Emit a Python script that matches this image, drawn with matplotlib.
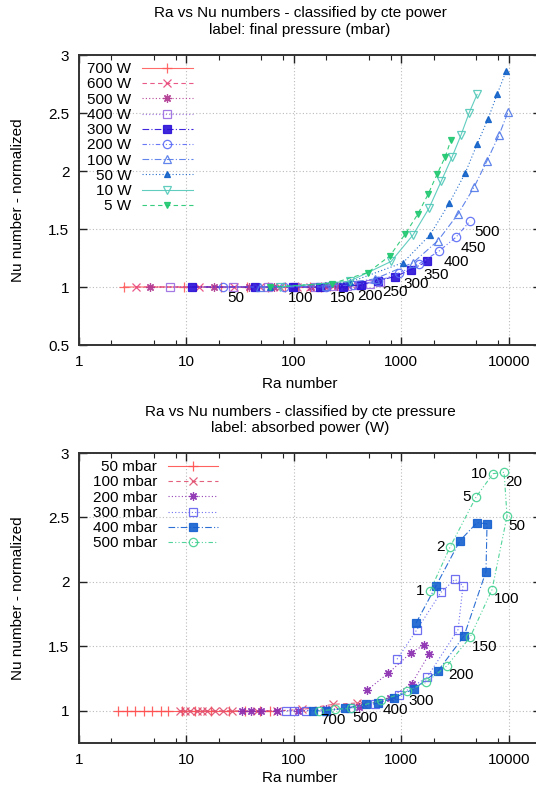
import matplotlib
matplotlib.use("Agg")
import matplotlib.pyplot as plt
from matplotlib.ticker import FixedLocator, NullFormatter, LogLocator

plt.rcParams['font.family'] = ['Liberation Sans', 'DejaVu Sans']
plt.rcParams['font.size'] = 10.5

# ---------------- top chart data (series by power, points = final pressure 50..500 mbar)
pressure_labels = ['50', '100', '150', '200', '250', '300', '350', '400', '450', '500']
power_names = ['700 W', '600 W', '500 W', '400 W', '300 W', '200 W', '100 W', '50 W', '10 W', '5 W']

ra_700 = [2.6, 9.5, 21, 37, 57, 82, 110, 142, 178, 215]
nu_700 = [1.0, 1.0, 1.0, 1.0, 1.0, 1.0, 1.0, 1.0, 1.0, 1.01]
ra_600 = [3.4, 13, 28, 48, 75, 106, 142, 185, 232, 282]
nu_600 = [1.0, 1.0, 1.0, 1.0, 1.0, 1.0, 1.0, 1.0, 1.01, 1.01]
ra_500 = [4.6, 18, 38, 66, 100, 145, 195, 252, 318, 390]
nu_500 = [1.0, 1.0, 1.0, 1.0, 1.0, 1.0, 1.01, 1.01, 1.02, 1.02]
ra_400 = [7.0, 27, 58, 102, 158, 228, 310, 405, 515, 640]
nu_400 = [1.0, 1.0, 1.0, 1.0, 1.0, 1.01, 1.01, 1.02, 1.03, 1.04]
ra_300 = [11.3, 43.5, 98, 175, 287, 422, 608, 875, 1233, 1740]
nu_300 = [1.0, 1.0, 1.0, 1.0, 1.0, 1.02, 1.055, 1.09, 1.15, 1.22]
ra_200 = [22, 81, 200, 356, 608, 955, 1465, 2250, 3240, 4370]
nu_200 = [1.0, 1.0, 1.0, 1.02, 1.05, 1.12, 1.20, 1.31, 1.43, 1.57]
ra_100 = [48, 200, 570, 1290, 2200, 3380, 4760, 6300, 8140, 9870]
nu_100 = [1.0, 1.01, 1.07, 1.21, 1.40, 1.63, 1.86, 2.09, 2.31, 2.51]
ra_50 = [60, 330, 1040, 1855, 2790, 3930, 5080, 6430, 7800, 9460]
nu_50 = [1.0, 1.04, 1.21, 1.45, 1.72, 1.98, 2.23, 2.45, 2.66, 2.86]
ra_10 = [75, 330, 804, 1290, 1815, 2350, 2970, 3600, 4280, 5080]
nu_10 = [1.0, 1.05, 1.22, 1.45, 1.68, 1.91, 2.12, 2.31, 2.50, 2.66]
ra_5 = [60, 227, 490, 787, 1085, 1430, 1780, 2150, 2560, 2910]
nu_5 = [1.0, 1.03, 1.125, 1.27, 1.455, 1.63, 1.80, 1.97, 2.12, 2.27]

# ---------------- bottom chart data (series by pressure, points = absorbed power)
pressure_names = ['50 mbar', '100 mbar', '200 mbar', '300 mbar', '400 mbar', '500 mbar']

ra_p50 = [60, 48, 35, 25, 17, 12, 9.0, 6.8, 5.8, 4.8, 4.0, 3.3, 2.8, 2.3]
nu_p50 = [1.0] * 14
ra_p100 = [440, 387, 232, 120, 70, 45, 26.5, 22, 18.5, 15.6, 14, 12.6, 10.8, 9.7, 8.7]
nu_p100 = [1.05, 1.06, 1.05, 1.01, 1.0, 1.0, 1.0, 1.0, 1.0, 1.0, 1.0, 1.0, 1.0, 1.0, 1.0]
ra_p200 = [480, 754, 1230, 1630, 1820, 1250, 780, 400, 200, 110, 70, 50, 40, 33]
nu_p200 = [1.16, 1.29, 1.45, 1.51, 1.44, 1.21, 1.10, 1.03, 1.01, 1.0, 1.0, 1.0, 1.0, 1.0]
ra_p300 = [914, 1400, 2350, 3170, 3760, 3380, 1740, 955, 570, 330, 200, 130, 100, 85]
nu_p300 = [1.40, 1.63, 1.92, 2.02, 1.97, 1.63, 1.26, 1.12, 1.05, 1.02, 1.0, 1.0, 1.0, 1.0]
ra_p400 = [1373, 2110, 3520, 5080, 6290, 6150, 3840, 2200, 1316, 857, 608, 470, 300, 200, 150]
nu_p400 = [1.68, 1.97, 2.32, 2.46, 2.45, 2.08, 1.58, 1.31, 1.17, 1.10, 1.06, 1.05, 1.02, 1.0, 1.0]
ra_p500 = [1855, 2845, 4980, 7160, 9060, 9660, 7000, 4370, 2670, 1700, 1130, 650, 340, 240, 172]
nu_p500 = [1.93, 2.27, 2.66, 2.84, 2.85, 2.51, 1.94, 1.57, 1.35, 1.22, 1.15, 1.08, 1.02, 1.01, 1.0]
power_labels = ['1', '2', '5', '10', '20', '50', '100', '150', '200', '', '300', '400', '500', '', '700']

x_ticks = [1, 10, 100, 1000, 10000]
x_ticklabels = ['1', '10', '100', '1000', '10000']
y_ticks_top = [0.5, 1, 1.5, 2, 2.5, 3]
y_ticklabels_top = ['0.5', '1', '1.5', '2', '2.5', '3']
y_ticks_bot = [1, 1.5, 2, 2.5, 3]
y_ticklabels_bot = ['1', '1.5', '2', '2.5', '3']

# ---------------- styles
DOT = (0, (1, 2))
DASH = (0, (4, 3))
DASHDOT = (0, (6, 2, 1, 2))
DASHDOTDOT = (0, (4, 2, 1, 2, 1, 2))
AST = (8, 2, 0)

top_styles = [
    dict(color='#ff5a5a', ls='-', marker='+', mfc='none', ms=7),
    dict(color='#e8487a', ls=DASH, marker='x', mfc='none', ms=5.5),
    dict(color='#b03590', ls=DOT, marker=AST, mfc='none', ms=6),
    dict(color='#9b6be0', ls=DOT, marker='s', mfc='none', ms=5.5),
    dict(color='#2a10d8', ls=DASHDOT, marker='s', mfc='#2a10d8', ms=5.5),
    dict(color='#5a6af5', ls=DASHDOTDOT, marker='o', mfc='none', ms=6),
    dict(color='#5078e8', ls=DASHDOT, marker='^', mfc='none', ms=6),
    dict(color='#1060c8', ls=DOT, marker='^', mfc='#1060c8', ms=5),
    dict(color='#50c8b8', ls='-', marker='v', mfc='none', ms=6),
    dict(color='#20c870', ls=DASH, marker='v', mfc='#20c870', ms=5),
]
bot_styles = [
    dict(color='#ff5050', ls='-', marker='+', mfc='none', ms=7),
    dict(color='#e05070', ls=DASH, marker='x', mfc='none', ms=5.5),
    dict(color='#8a2ab0', ls=DOT, marker=AST, mfc='none', ms=6),
    dict(color='#6060f0', ls=DOT, marker='s', mfc='none', ms=6),
    dict(color='#1560d0', ls=DASHDOT, marker='s', mfc='#1560d0', ms=5.5),
    dict(color='#40d090', ls=DASHDOTDOT, marker='o', mfc='none', ms=6),
]

W, H = 536, 789
fig = plt.figure(figsize=(W / 100, H / 100), dpi=100)


def px_axes(l, t, r, b):
    return fig.add_axes([l / W, 1 - b / H, (r - l) / W, (b - t) / H])


def style_axes(ax, yticks, ylabels, ylim):
    ax.set_xscale('log')
    ax.set_xlim(1, 20000)
    ax.set_ylim(*ylim)
    ax.xaxis.set_major_locator(FixedLocator(x_ticks))
    ax.set_xticklabels(x_ticklabels)
    ax.xaxis.set_minor_locator(LogLocator(base=10, subs=(2, 5, 8), numticks=20))
    ax.xaxis.set_minor_formatter(NullFormatter())
    ax.set_yticks(yticks)
    ax.set_yticklabels(ylabels)
    ax.tick_params(which='both', direction='in', top=True, right=True, colors='#222222', labelcolor='black')
    ax.tick_params(which='major', length=6, width=1.0, pad=7, labelsize=11)
    ax.tick_params(which='minor', length=3.5, width=0.8)
    ax.grid(True, which='major', color='#bbbbbb', ls=(0, (1, 2)), lw=0.8)
    for s in ax.spines.values():
        s.set_color('#333333')
        s.set_linewidth(1.4)
    ax.set_axisbelow(True)


def draw(ax, x, y, st, label):
    ax.plot(x, y, color=st['color'], ls=st['ls'], lw=0.8, marker=st['marker'], ms=st['ms'],
            mfc=st['mfc'], mec=st['color'], mew=0.9, label=label, alpha=0.9)


# ---------------- top
ax1 = px_axes(79, 55, 541, 345)
style_axes(ax1, y_ticks_top, y_ticklabels_top, (0.5, 3))
top_x = [ra_700, ra_600, ra_500, ra_400, ra_300, ra_200, ra_100, ra_50, ra_10, ra_5]
top_y = [nu_700, nu_600, nu_500, nu_400, nu_300, nu_200, nu_100, nu_50, nu_10, nu_5]
for xs, ys, st, nm in zip(top_x, top_y, top_styles, power_names):
    draw(ax1, xs, ys, st, nm)
for xv, yv, lab in zip(ra_200, nu_200, pressure_labels):
    ax1.annotate(lab, (xv, yv), xytext=(3, -8), textcoords='offset points',
                 ha='left', va='center', fontsize=11)
leg1 = ax1.legend(loc='upper left', bbox_to_anchor=(0.018, 0.975), frameon=False,
                  markerfirst=False, handlelength=3.3, handletextpad=0.7,
                  labelspacing=0.08, borderpad=0, borderaxespad=0, fontsize=11)

fig.text(300 / W, 1 - 13 / H, 'Ra vs Nu numbers - classified by cte power', ha='center', va='center', fontsize=11)
fig.text(300 / W, 1 - 30 / H, 'label: final pressure (mbar)', ha='center', va='center', fontsize=11)
fig.text(300 / W, 1 - 384 / H, 'Ra number', ha='center', va='center', fontsize=11)
fig.text(18 / W, 1 - 200 / H, 'Nu number - normalized', ha='center', va='center', rotation=90, fontsize=11)

# ---------------- bottom
ax2 = px_axes(79, 453, 541, 743)
style_axes(ax2, y_ticks_bot, y_ticklabels_bot, (0.75, 3))
bot_x = [ra_p50, ra_p100, ra_p200, ra_p300, ra_p400, ra_p500]
bot_y = [nu_p50, nu_p100, nu_p200, nu_p300, nu_p400, nu_p500]
for xs, ys, st, nm in zip(bot_x, bot_y, bot_styles, pressure_names):
    draw(ax2, xs, ys, st, nm)
for i, (xv, yv, lab) in enumerate(zip(ra_p500, nu_p500, power_labels)):
    if not lab:
        continue
    if i < 4:
        ax2.annotate(lab, (xv, yv), xytext=(-4, 0), textcoords='offset points',
                     ha='right', va='center', fontsize=11)
    else:
        ax2.annotate(lab, (xv, yv), xytext=(1, -7), textcoords='offset points',
                     ha='left', va='center', fontsize=11)
leg2 = ax2.legend(loc='upper left', bbox_to_anchor=(0.03, 0.975), frameon=False,
                  markerfirst=False, handlelength=3.3, handletextpad=0.7,
                  labelspacing=0.08, borderpad=0, borderaxespad=0, fontsize=11)

fig.text(300 / W, 1 - 412 / H, 'Ra vs Nu numbers - classified by cte pressure', ha='center', va='center', fontsize=11)
fig.text(300 / W, 1 - 428 / H, 'label: absorbed power (W)', ha='center', va='center', fontsize=11)
fig.text(300 / W, 1 - 778 / H, 'Ra number', ha='center', va='center', fontsize=11)
fig.text(18 / W, 1 - 598 / H, 'Nu number - normalized', ha='center', va='center', rotation=90, fontsize=11)

fig.savefig('out.png', dpi=100, facecolor='white')
